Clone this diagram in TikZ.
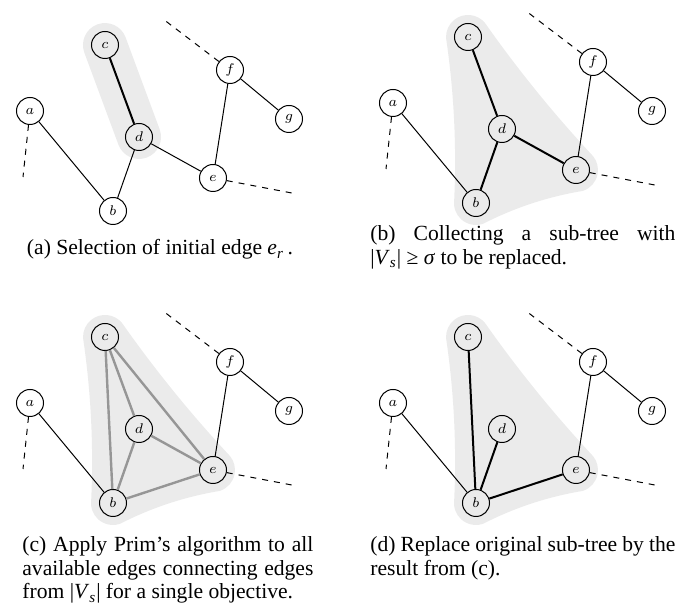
\documentclass[tikz,border=0pt]{standalone}
\usepackage{fontspec}
\setmainfont{Liberation Serif}
\usetikzlibrary{calc}
\definecolor{blobgray}{RGB}{235,235,235}
\definecolor{candgray}{RGB}{150,150,150}
\tikzset{
  vtx/.style={circle, draw, line width=0.5pt, minimum size=13.5pt, inner sep=0pt,
    font=\fontsize{7}{8}\selectfont},
  thinedge/.style={line width=0.5pt},
  seledge/.style={line width=1pt},
  candedge/.style={line width=1.2pt, draw=candgray},
  dashedge/.style={line width=0.5pt, dashed},
  blobfill/.style={fill=blobgray, draw=none},
  captext/.style={inner sep=0pt, font=\fontsize{10.8}{11.75}\selectfont},
  capblock/.style={captext, align=justify, anchor=base west},
}
% nodes, dashed stubs and the edges common to all four panels
\newcommand\drawgraphnodes[1]{%
  \node[vtx] (#1a) at (30,111) {$a$};
  \node[vtx] (#1b) at (113,211) {$b$};
  \node[vtx] (#1c) at (105,45) {$c$};
  \node[vtx] (#1d) at (139,137) {$d$};
  \node[vtx] (#1e) at (213,178) {$e$};
  \node[vtx] (#1f) at (230,70) {$f$};
  \node[vtx] (#1g) at (289,119) {$g$};
  \coordinate (#1ax) at (23,177);
  \coordinate (#1fx) at (163,19);
  \coordinate (#1ex) at (297,194);
  \draw[dashedge] (#1a) -- (#1ax);
  \draw[dashedge] (#1f) -- (#1fx);
  \draw[dashedge] (#1e) -- (#1ex);
  \draw[thinedge] (#1a) -- (#1b);
  \draw[thinedge] (#1e) -- (#1f);
  \draw[thinedge] (#1f) -- (#1g);
}
\newcommand\drawhullblob{%
  \fill[blobfill] (122.1,31.1) arc[start angle=-39.1, end angle=-182.8, radius=22]
    .. controls (91.2,101.1) and (93.8,156.5) .. (91.0,212.1)
    arc[start angle=177.2, end angle=71.7, radius=22]
    .. controls (151.5,215.7) and (184.9,204.7) .. (219.9,198.9)
    arc[start angle=71.7, end angle=-39.1, radius=22]
    .. controls (191,122.3) and (155,77.9) .. (122.1,31.1) -- cycle;
}
\begin{document}
\begin{tikzpicture}[x=0.5pt, y=-0.5pt]
\useasboundingbox (0,0) rectangle (677,608);

% ---------- (a) ----------
\begin{scope}
  \fill[blobfill] (125.6,37.4) arc[start angle=-20.3, end angle=-200.3, radius=22]
    -- (118.4,144.6) arc[start angle=159.7, end angle=-20.3, radius=22] -- cycle;
  \drawgraphnodes{A}
  \draw[thinedge] (Ab) -- (Ad);
  \draw[thinedge] (Ad) -- (Ae);
  \draw[seledge] (Ac) -- (Ad);
\end{scope}
\node[captext, anchor=base] (capa) at (160,255)
  {(a) Selection of initial edge \textit{e}\textsubscript{\textit{r}}\,.};

% ---------- (b) ----------
\begin{scope}[shift={(363,-8)}]
  \drawhullblob
  \drawgraphnodes{B}
  \draw[seledge] (Bb) -- (Bd);
  \draw[seledge] (Bc) -- (Bd);
  \draw[seledge] (Bd) -- (Be);
\end{scope}
\node[capblock, text width=152.5pt] (capb) at (370,241)
  {(b) Collecting a sub-tree with\linebreak
   |\textit{V}\textsubscript{\textit{s}}| ≥ \textit{σ} to be replaced.};

% ---------- (c) ----------
\begin{scope}[shift={(0,292)}]
  \drawhullblob
  \drawgraphnodes{C}
  \draw[candedge] (Cc) -- (Cb);
  \draw[candedge] (Cc) -- (Cd);
  \draw[candedge] (Cc) -- (Ce);
  \draw[candedge] (Cd) -- (Cb);
  \draw[candedge] (Cd) -- (Ce);
  \draw[candedge] (Cb) -- (Ce);
\end{scope}
\node[capblock, text width=145.5pt] (capc) at (22,552)
  {(c) Apply Prim's algorithm to all\linebreak
   available edges connecting edges\linebreak
   from |\textit{V}\textsubscript{\textit{s}}| for a single objective.};

% ---------- (d) ----------
\begin{scope}[shift={(363,292)}]
  \drawhullblob
  \drawgraphnodes{D}
  \draw[seledge] (Dc) -- (Db);
  \draw[seledge] (Dd) -- (Db);
  \draw[seledge] (Db) -- (De);
\end{scope}
\node[capblock, text width=152.5pt] (capd) at (370,552)
  {(d) Replace original sub-tree by the\linebreak
   result from (c).};
\end{tikzpicture}
\end{document}
